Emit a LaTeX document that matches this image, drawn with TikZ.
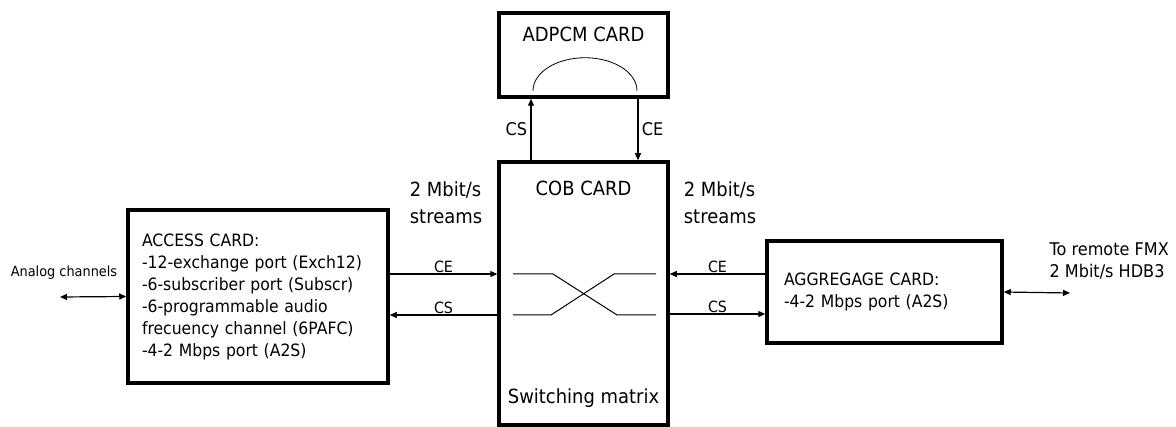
\documentclass[tikz,border=0pt]{standalone}
\usepackage{fontspec}
\setmainfont{DejaVu Sans}[FakeStretch=0.92]
\usetikzlibrary{arrows.meta,positioning}
\tikzset{
  card/.style={draw, line width=3.5pt, inner sep=0pt},
  flow/.style={-{Triangle[length=7pt,width=6pt]}, line width=1.2pt},
  both/.style={{Triangle[length=7pt,width=6pt]}-{Triangle[length=7pt,width=6pt]}, line width=1.2pt},
  sig/.style={font=\fontsize{15.5}{16}\selectfont, inner sep=1pt},
  vsig/.style={font=\fontsize{17.5}{20}\selectfont},
  big/.style={font=\fontsize{19.5}{27}\selectfont},
  body/.style={font=\fontsize{17}{22}\selectfont},
  small/.style={font=\fontsize{14}{22}\selectfont},
  remotetxt/.style={font=\fontsize{17.5}{22}\selectfont},
  xline/.style={line width=1pt},
}
\begin{document}
\begin{tikzpicture}[x=1pt,y=-1pt]
\useasboundingbox (0,0) rectangle (1176,427);
% cards
\node[card, minimum width=169pt, minimum height=84pt] (adpcm) at (583.5,55) {};
\node[card, minimum width=169pt, minimum height=263pt] (cob) at (583.5,293.5) {};
\node[card, body, minimum width=260pt, minimum height=173pt, text width=232pt,
      inner xsep=14pt, align=left] (access) at (258,296.5)
  {ACCESS CARD:\\-12-exchange port (Exch12)\\-6-subscriber port (Subscr)\\
   -6-programmable audio\\frecuency channel (6PAFC)\\-4-2 Mbps port (A2S)};
\node[card, body, minimum width=235pt, minimum height=102pt, text width=201pt,
      inner xsep=17pt, align=left] (aggr) at (884.5,292)
  {AGGREGAGE CARD:\\-4-2 Mbps port (A2S)};
% titles
\node[big] (adpcmlbl) at (583.5,34) {ADPCM CARD};
\node[big] (coblbl) at (583.5,188) {COB CARD};
\node[big] (swlbl) at (583.5,398) {Switching matrix};
\node[big, align=left] (rateL) at (446,203) {2 Mbit/s\\streams};
\node[big, align=left] (rateR) at (720,203) {2 Mbit/s\\streams};
% loop inside the ADPCM card
\draw[xline, line width=0.8pt] ([shift={(-50.5,-8)}]adpcm.south)
  arc[start angle=180, end angle=360, x radius=52, y radius=33];
% switching cross
\draw[xline] (513,274) -- (553,274) -- (617,315) -- (656,315);
\draw[xline] (513,315) -- (551,315) -- (614,274) -- (656,274);
% streams
\draw[flow] (access.east |- 0,274) -- (cob.west |- 0,274) node[sig, midway, above] {CE};
\draw[flow] (cob.west |- 0,315) -- (access.east |- 0,315) node[sig, midway, above] {CS};
\draw[flow] (aggr.west |- 0,274) -- (cob.east |- 0,274) node[sig, midway, above] {CE};
\draw[flow] (cob.east |- 0,314) -- (aggr.west |- 0,314) node[sig, midway, above] {CS};
\draw[flow] (cob.north -| 531,0) -- (adpcm.south -| 531,0) node[vsig, midway, left] {CS};
\draw[flow] (adpcm.south -| 638,0) -- (cob.north -| 638,0) node[vsig, midway, right] {CE};
% outside links
\coordinate (analog) at (60,297);
\coordinate (remote) at (1070,293);
\draw[both] (analog) -- (access.west);
\draw[both] (aggr.east) -- (remote);
\node[small] (analoglbl) at (64,273) {Analog channels};
\node[remotetxt, anchor=west, align=left] (remotelbl) at (1046,261) {To remote FMX\\2 Mbit/s HDB3};
\end{tikzpicture}
\end{document}
